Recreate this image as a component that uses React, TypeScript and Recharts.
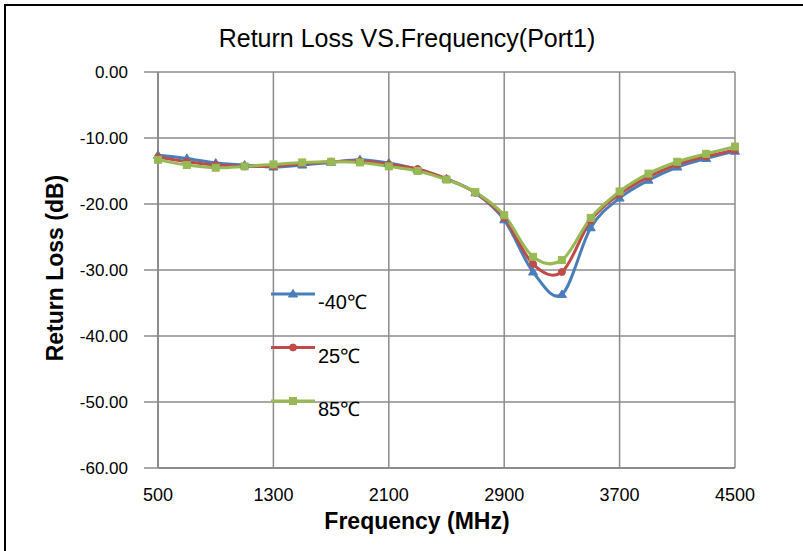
import React from 'react';
import { LineChart, Line, XAxis, YAxis, CartesianGrid, Legend } from 'recharts';

const frequencies = [500, 700, 900, 1100, 1300, 1500, 1700, 1900, 2100, 2300, 2500, 2700, 2900, 3100, 3300, 3500, 3700, 3900, 4100, 4300, 4500];
const seriesM40 = [-12.6, -13.1, -13.8, -14.1, -14.4, -14.1, -13.7, -13.3, -13.8, -14.8, -16.2, -18.3, -22.4, -30.3, -33.7, -23.6, -19.1, -16.4, -14.4, -13.1, -12.0];
const series25 = [-12.9, -13.6, -14.1, -14.3, -14.3, -13.9, -13.6, -13.5, -14.0, -14.7, -16.2, -18.3, -22.1, -29.1, -30.3, -22.5, -18.5, -15.9, -14.0, -12.8, -11.8];
const series85 = [-13.3, -14.1, -14.5, -14.3, -14.0, -13.7, -13.6, -13.7, -14.3, -15.0, -16.3, -18.2, -21.7, -28.0, -28.5, -22.1, -18.1, -15.4, -13.6, -12.4, -11.3];
const xTicks = [500, 1300, 2100, 2900, 3700, 4500];
const yTicks = [0, -10, -20, -30, -40, -50, -60];
const seriesNames = ['-40℃', '25℃', '85℃'];
const seriesKeys = ['m40', 't25', 't85'];
const seriesColors = ['#4A7EBB', '#BE4B48', '#98B954'];
const seriesShapes = ['triangle', 'circle', 'square'];

const data = frequencies.map((f, i) => ({
  freq: f,
  m40: seriesM40[i],
  t25: series25[i],
  t85: series85[i],
}));

const FONT = '"Liberation Sans", Arial, sans-serif';
const GRID = '#8c8c8c';

// Excel-like smoothed line (uniform Catmull-Rom as cubic Bezier)
function smoothCurve(context: any) {
  let pts: number[][] = [];
  return {
    areaStart() {},
    areaEnd() {},
    lineStart() {
      pts = [];
    },
    point(x: number, y: number) {
      pts.push([+x, +y]);
    },
    lineEnd() {
      const n = pts.length;
      if (n === 0) return;
      context.moveTo(pts[0][0], pts[0][1]);
      if (n === 1) return;
      for (let i = 0; i < n - 1; i++) {
        const p0 = pts[i - 1] || pts[i];
        const p1 = pts[i];
        const p2 = pts[i + 1];
        const p3 = pts[i + 2] || pts[i + 1];
        const c1x = p1[0] + (p2[0] - p0[0]) / 6;
        const c1y = p1[1] + (p2[1] - p0[1]) / 6;
        const c2x = p2[0] - (p3[0] - p1[0]) / 6;
        const c2y = p2[1] - (p3[1] - p1[1]) / 6;
        context.bezierCurveTo(c1x, c1y, c2x, c2y, p2[0], p2[1]);
      }
    },
  };
}

function marker(shape: string, cx: number, cy: number, color: string, key?: any) {
  if (shape === 'triangle') {
    return <path key={key} d={`M${cx},${cy - 4.5} L${cx + 4.5},${cy + 3} L${cx - 4.5},${cy + 3} Z`} fill={color} stroke={color} strokeWidth={1} />;
  }
  if (shape === 'square') {
    return <rect key={key} x={cx - 3.5} y={cy - 3.5} width={7} height={7} fill={color} stroke={color} strokeWidth={1} />;
  }
  return <circle key={key} cx={cx} cy={cy} r={3.5} fill={color} stroke={color} strokeWidth={1} />;
}

function makeDot(shape: string, color: string) {
  return (props: any) => {
    const { cx, cy, index } = props;
    if (cx == null || cy == null) return <g key={`d-${index}`} />;
    return marker(shape, cx, cy, color, `d-${shape}-${index}`);
  };
}

const LegendContent = () => (
  <svg width={130} height={160} style={{ display: 'block', overflow: 'visible' }}>
    {seriesNames.map((name, i) => {
      const y = 14 + i * 53.5;
      return (
        <g key={name}>
          <line x1={5} x2={49} y1={y} y2={y} stroke={seriesColors[i]} strokeWidth={3} />
          {marker(seriesShapes[i], 27, y, seriesColors[i])}
          <text x={52} y={y + 15} fontFamily={FONT} fontSize={20} fill="#000">{name}</text>
        </g>
      );
    })}
  </svg>
);

export default function App() {
  return (
    <div style={{ position: 'absolute', left: 0, top: 0, width: 803, height: 551, background: '#fff', overflow: 'hidden' }}>
      <div style={{ position: 'absolute', left: 4, top: 4, width: 803, height: 551, borderLeft: '2px solid #000', borderTop: '2px solid #000', boxSizing: 'border-box' }} />
      <LineChart
        width={803}
        height={551}
        data={data}
        margin={{ top: 72, right: 68, bottom: 0, left: 0 }}
      >
        <CartesianGrid stroke={GRID} strokeWidth={1.5} />
        <XAxis
          dataKey="freq"
          type="number"
          domain={[500, 4500]}
          ticks={xTicks}
          height={83}
          axisLine={{ stroke: GRID, strokeWidth: 2 }}
          tickLine={false}
          tickSize={8}
          tickMargin={12}
          tick={{ fill: '#000', fontSize: 18, fontFamily: FONT }}
          interval={0}
        />
        <YAxis
          type="number"
          domain={[-60, 0]}
          ticks={yTicks}
          width={158}
          axisLine={{ stroke: GRID, strokeWidth: 2 }}
          tickLine={{ stroke: GRID, strokeWidth: 1.5 }}
          tickSize={14}
          tickMargin={16}
          tick={{ fill: '#000', fontSize: 17, fontFamily: FONT }}
          tickFormatter={(v: number) => v.toFixed(2)}
          interval={0}
        />
        <Legend
          layout="vertical"
          align="center"
          verticalAlign="middle"
          content={LegendContent}
          wrapperStyle={{ left: 266, top: 280, width: 130, height: 160 }}
        />
        {seriesKeys.map((k, i) => (
          <Line
            key={k}
            dataKey={k}
            name={seriesNames[i]}
            type={smoothCurve as any}
            stroke={seriesColors[i]}
            strokeWidth={3}
            dot={makeDot(seriesShapes[i], seriesColors[i])}
            activeDot={false}
            isAnimationActive={false}
          />
        ))}
      </LineChart>
      <div style={{ position: 'absolute', left: 407, top: 26, transform: 'translateX(-50%)', whiteSpace: 'nowrap', fontFamily: FONT, fontSize: 25, lineHeight: 1, color: '#000' }}>
        Return Loss VS.Frequency(Port1)
      </div>
      <div style={{ position: 'absolute', left: 417, top: 510, transform: 'translateX(-50%)', whiteSpace: 'nowrap', fontFamily: FONT, fontSize: 23, fontWeight: 'bold', lineHeight: 1, color: '#000' }}>
        Frequency (MHz)
      </div>
      <div style={{ position: 'absolute', left: 55, top: 268, transform: 'translate(-50%, -50%) rotate(-90deg)', whiteSpace: 'nowrap', fontFamily: FONT, fontSize: 23, fontWeight: 'bold', lineHeight: 1, color: '#000' }}>
        Return Loss (dB)
      </div>
    </div>
  );
}
